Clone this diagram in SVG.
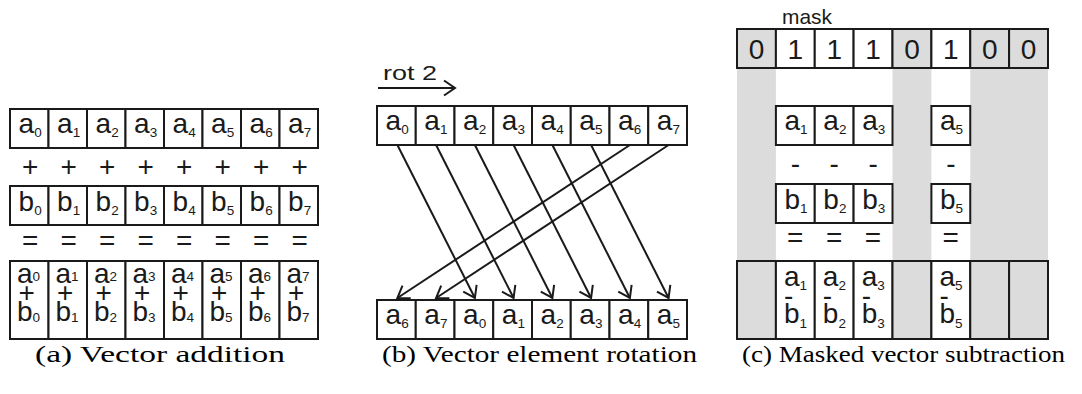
<svg xmlns="http://www.w3.org/2000/svg" width="1082" height="394" viewBox="0 0 1082 394">
<style>
.c{fill:#fff;stroke:#1a1a1a;stroke-width:2}
.g{fill:#dcdcdc;stroke:#1a1a1a;stroke-width:2}
.bg{fill:#dcdcdc;stroke:none}
.t{font-family:"Liberation Sans",Arial,sans-serif;font-size:28px;fill:#1a1a1a}
.s{font-size:13.5px}
.m{text-anchor:middle}
.lab{font-family:"Liberation Sans",Arial,sans-serif;font-size:21px;fill:#1a1a1a}
.cap{font-family:"Liberation Serif","Times New Roman",serif;font-size:24px;fill:#000}
.ar{fill:none;stroke:#1a1a1a;stroke-width:2}
</style>
<defs>
<marker id="ah" markerUnits="userSpaceOnUse" markerWidth="14" markerHeight="18" refX="12" refY="9" orient="auto">
<path d="M1,1.5 L12,9 L1,16.5" fill="none" stroke="#1a1a1a" stroke-width="2"/>
</marker>
</defs>

<!-- Panel (a) -->
<g id="a-row-a">
<rect class="c" x="10" y="109" width="38.5" height="39"/>
<rect class="c" x="48.5" y="109" width="38.5" height="39"/>
<rect class="c" x="87" y="109" width="38.5" height="39"/>
<rect class="c" x="125.5" y="109" width="38.5" height="39"/>
<rect class="c" x="164" y="109" width="38.5" height="39"/>
<rect class="c" x="202.5" y="109" width="38.5" height="39"/>
<rect class="c" x="241" y="109" width="38.5" height="39"/>
<rect class="c" x="279.5" y="109" width="38.5" height="39"/>
<text class="t" x="18.6" y="133">a<tspan class="s" dy="3.5">0</tspan></text>
<text class="t" x="57.1" y="133">a<tspan class="s" dy="3.5">1</tspan></text>
<text class="t" x="95.6" y="133">a<tspan class="s" dy="3.5">2</tspan></text>
<text class="t" x="134.1" y="133">a<tspan class="s" dy="3.5">3</tspan></text>
<text class="t" x="172.6" y="133">a<tspan class="s" dy="3.5">4</tspan></text>
<text class="t" x="211.1" y="133">a<tspan class="s" dy="3.5">5</tspan></text>
<text class="t" x="249.6" y="133">a<tspan class="s" dy="3.5">6</tspan></text>
<text class="t" x="288.1" y="133">a<tspan class="s" dy="3.5">7</tspan></text>
</g>
<g id="a-ops-plus">
<text class="t m" x="30.25" y="176">+</text>
<text class="t m" x="68.75" y="176">+</text>
<text class="t m" x="107.25" y="176">+</text>
<text class="t m" x="145.75" y="176">+</text>
<text class="t m" x="184.25" y="176">+</text>
<text class="t m" x="222.75" y="176">+</text>
<text class="t m" x="261.25" y="176">+</text>
<text class="t m" x="299.75" y="176">+</text>
</g>
<g id="a-row-b">
<rect class="c" x="10" y="186" width="38.5" height="39"/>
<rect class="c" x="48.5" y="186" width="38.5" height="39"/>
<rect class="c" x="87" y="186" width="38.5" height="39"/>
<rect class="c" x="125.5" y="186" width="38.5" height="39"/>
<rect class="c" x="164" y="186" width="38.5" height="39"/>
<rect class="c" x="202.5" y="186" width="38.5" height="39"/>
<rect class="c" x="241" y="186" width="38.5" height="39"/>
<rect class="c" x="279.5" y="186" width="38.5" height="39"/>
<text class="t" x="18.6" y="211">b<tspan class="s" dy="3.5">0</tspan></text>
<text class="t" x="57.1" y="211">b<tspan class="s" dy="3.5">1</tspan></text>
<text class="t" x="95.6" y="211">b<tspan class="s" dy="3.5">2</tspan></text>
<text class="t" x="134.1" y="211">b<tspan class="s" dy="3.5">3</tspan></text>
<text class="t" x="172.6" y="211">b<tspan class="s" dy="3.5">4</tspan></text>
<text class="t" x="211.1" y="211">b<tspan class="s" dy="3.5">5</tspan></text>
<text class="t" x="249.6" y="211">b<tspan class="s" dy="3.5">6</tspan></text>
<text class="t" x="288.1" y="211">b<tspan class="s" dy="3.5">7</tspan></text>
</g>
<g id="a-ops-eq">
<text class="t m" x="30.25" y="250">=</text>
<text class="t m" x="68.75" y="250">=</text>
<text class="t m" x="107.25" y="250">=</text>
<text class="t m" x="145.75" y="250">=</text>
<text class="t m" x="184.25" y="250">=</text>
<text class="t m" x="222.75" y="250">=</text>
<text class="t m" x="261.25" y="250">=</text>
<text class="t m" x="299.75" y="250">=</text>
</g>
<g id="a-row-sum">
<rect class="c" x="10" y="261" width="38.5" height="78"/>
<rect class="c" x="48.5" y="261" width="38.5" height="78"/>
<rect class="c" x="87" y="261" width="38.5" height="78"/>
<rect class="c" x="125.5" y="261" width="38.5" height="78"/>
<rect class="c" x="164" y="261" width="38.5" height="78"/>
<rect class="c" x="202.5" y="261" width="38.5" height="78"/>
<rect class="c" x="241" y="261" width="38.5" height="78"/>
<rect class="c" x="279.5" y="261" width="38.5" height="78"/>
<text class="t" x="17" y="283">a<tspan class="s" dy="-2">0</tspan><tspan x="18.6" y="302">+</tspan><tspan x="17" y="321">b</tspan><tspan class="s" dy="1">0</tspan></text>
<text class="t" x="55.5" y="283">a<tspan class="s" dy="-2">1</tspan><tspan x="57.1" y="302">+</tspan><tspan x="55.5" y="321">b</tspan><tspan class="s" dy="1">1</tspan></text>
<text class="t" x="94" y="283">a<tspan class="s" dy="-2">2</tspan><tspan x="95.6" y="302">+</tspan><tspan x="94" y="321">b</tspan><tspan class="s" dy="1">2</tspan></text>
<text class="t" x="132.5" y="283">a<tspan class="s" dy="-2">3</tspan><tspan x="134.1" y="302">+</tspan><tspan x="132.5" y="321">b</tspan><tspan class="s" dy="1">3</tspan></text>
<text class="t" x="171" y="283">a<tspan class="s" dy="-2">4</tspan><tspan x="172.6" y="302">+</tspan><tspan x="171" y="321">b</tspan><tspan class="s" dy="1">4</tspan></text>
<text class="t" x="209.5" y="283">a<tspan class="s" dy="-2">5</tspan><tspan x="211.1" y="302">+</tspan><tspan x="209.5" y="321">b</tspan><tspan class="s" dy="1">5</tspan></text>
<text class="t" x="248" y="283">a<tspan class="s" dy="-2">6</tspan><tspan x="249.6" y="302">+</tspan><tspan x="248" y="321">b</tspan><tspan class="s" dy="1">6</tspan></text>
<text class="t" x="286.5" y="283">a<tspan class="s" dy="-2">7</tspan><tspan x="288.1" y="302">+</tspan><tspan x="286.5" y="321">b</tspan><tspan class="s" dy="1">7</tspan></text>
</g>
<text class="cap" x="35" y="362" textLength="250" lengthAdjust="spacingAndGlyphs">(a) Vector addition</text>

<!-- Panel (b) -->
<g id="b-label">
<text class="lab" x="383" y="80" textLength="54" lengthAdjust="spacingAndGlyphs">rot 2</text>
</g>
<g id="b-row-top">
<rect class="c" x="377" y="106" width="38.75" height="39"/>
<rect class="c" x="415.75" y="106" width="38.75" height="39"/>
<rect class="c" x="454.5" y="106" width="38.75" height="39"/>
<rect class="c" x="493.25" y="106" width="38.75" height="39"/>
<rect class="c" x="532" y="106" width="38.75" height="39"/>
<rect class="c" x="570.75" y="106" width="38.75" height="39"/>
<rect class="c" x="609.5" y="106" width="38.75" height="39"/>
<rect class="c" x="648.25" y="106" width="38.75" height="39"/>
<text class="t" x="385.6" y="130">a<tspan class="s" dy="3.5">0</tspan></text>
<text class="t" x="424.35" y="130">a<tspan class="s" dy="3.5">1</tspan></text>
<text class="t" x="463.1" y="130">a<tspan class="s" dy="3.5">2</tspan></text>
<text class="t" x="501.85" y="130">a<tspan class="s" dy="3.5">3</tspan></text>
<text class="t" x="540.6" y="130">a<tspan class="s" dy="3.5">4</tspan></text>
<text class="t" x="579.35" y="130">a<tspan class="s" dy="3.5">5</tspan></text>
<text class="t" x="618.1" y="130">a<tspan class="s" dy="3.5">6</tspan></text>
<text class="t" x="656.85" y="130">a<tspan class="s" dy="3.5">7</tspan></text>
</g>
<g id="b-row-bottom">
<rect class="c" x="377" y="300" width="38.75" height="39"/>
<rect class="c" x="415.75" y="300" width="38.75" height="39"/>
<rect class="c" x="454.5" y="300" width="38.75" height="39"/>
<rect class="c" x="493.25" y="300" width="38.75" height="39"/>
<rect class="c" x="532" y="300" width="38.75" height="39"/>
<rect class="c" x="570.75" y="300" width="38.75" height="39"/>
<rect class="c" x="609.5" y="300" width="38.75" height="39"/>
<rect class="c" x="648.25" y="300" width="38.75" height="39"/>
<text class="t" x="385.6" y="324">a<tspan class="s" dy="3.5">6</tspan></text>
<text class="t" x="424.35" y="324">a<tspan class="s" dy="3.5">7</tspan></text>
<text class="t" x="463.1" y="324">a<tspan class="s" dy="3.5">0</tspan></text>
<text class="t" x="501.85" y="324">a<tspan class="s" dy="3.5">1</tspan></text>
<text class="t" x="540.6" y="324">a<tspan class="s" dy="3.5">2</tspan></text>
<text class="t" x="579.35" y="324">a<tspan class="s" dy="3.5">3</tspan></text>
<text class="t" x="618.1" y="324">a<tspan class="s" dy="3.5">4</tspan></text>
<text class="t" x="656.85" y="324">a<tspan class="s" dy="3.5">5</tspan></text>
</g>
<g id="connectors">
<line class="ar" x1="378" y1="88" x2="455" y2="88" marker-end="url(#ah)"/>
<line class="ar" x1="397.4" y1="145" x2="474.9" y2="298" marker-end="url(#ah)"/>
<line class="ar" x1="436.1" y1="145" x2="513.6" y2="298" marker-end="url(#ah)"/>
<line class="ar" x1="474.9" y1="145" x2="552.4" y2="298" marker-end="url(#ah)"/>
<line class="ar" x1="513.6" y1="145" x2="591.1" y2="298" marker-end="url(#ah)"/>
<line class="ar" x1="552.4" y1="145" x2="629.9" y2="298" marker-end="url(#ah)"/>
<line class="ar" x1="591.1" y1="145" x2="668.6" y2="298" marker-end="url(#ah)"/>
<line class="ar" x1="629.9" y1="145" x2="397.4" y2="298" marker-end="url(#ah)"/>
<line class="ar" x1="668.6" y1="145" x2="436.1" y2="298" marker-end="url(#ah)"/>
</g>
<text class="cap" x="382" y="362" textLength="315" lengthAdjust="spacingAndGlyphs">(b) Vector element rotation</text>

<!-- Panel (c) -->
<g id="c-mask-bg">
<rect class="bg" x="737" y="68" width="38.9" height="193"/>
<rect class="bg" x="892.5" y="68" width="38.9" height="193"/>
<rect class="bg" x="970.25" y="68" width="77.75" height="193"/>
</g>
<g id="c-mask">
<text class="lab" x="782" y="24" textLength="50" lengthAdjust="spacingAndGlyphs">mask</text>
<rect class="g" x="737" y="29" width="38.9" height="39"/>
<rect class="c" x="775.9" y="29" width="38.85" height="39"/>
<rect class="c" x="814.75" y="29" width="38.85" height="39"/>
<rect class="c" x="853.6" y="29" width="38.9" height="39"/>
<rect class="g" x="892.5" y="29" width="38.9" height="39"/>
<rect class="c" x="931.4" y="29" width="38.85" height="39"/>
<rect class="g" x="970.25" y="29" width="38.85" height="39"/>
<rect class="g" x="1009.1" y="29" width="38.9" height="39"/>
<text class="t m" x="756.45" y="58.5">0</text>
<text class="t m" x="795.3" y="58.5">1</text>
<text class="t m" x="834.2" y="58.5">1</text>
<text class="t m" x="873.05" y="58.5">1</text>
<text class="t m" x="911.95" y="58.5">0</text>
<text class="t m" x="950.8" y="58.5">1</text>
<text class="t m" x="989.7" y="58.5">0</text>
<text class="t m" x="1028.55" y="58.5">0</text>
</g>
<g id="c-row-a">
<rect class="c" x="775.9" y="106" width="38.85" height="39"/>
<rect class="c" x="814.75" y="106" width="38.85" height="39"/>
<rect class="c" x="853.6" y="106" width="38.9" height="39"/>
<rect class="c" x="931.4" y="106" width="38.85" height="39"/>
<text class="t" x="784.5" y="130">a<tspan class="s" dy="3.5">1</tspan></text>
<text class="t" x="823.35" y="130">a<tspan class="s" dy="3.5">2</tspan></text>
<text class="t" x="862.2" y="130">a<tspan class="s" dy="3.5">3</tspan></text>
<text class="t" x="940" y="130">a<tspan class="s" dy="3.5">5</tspan></text>
</g>
<g id="c-ops-minus">
<text class="t m" x="795.3" y="172.6">-</text>
<text class="t m" x="834.2" y="172.6">-</text>
<text class="t m" x="873.05" y="172.6">-</text>
<text class="t m" x="950.8" y="172.6">-</text>
</g>
<g id="c-row-b">
<rect class="c" x="775.9" y="184" width="38.85" height="39"/>
<rect class="c" x="814.75" y="184" width="38.85" height="39"/>
<rect class="c" x="853.6" y="184" width="38.9" height="39"/>
<rect class="c" x="931.4" y="184" width="38.85" height="39"/>
<text class="t" x="784.5" y="209">b<tspan class="s" dy="3.5">1</tspan></text>
<text class="t" x="823.35" y="209">b<tspan class="s" dy="3.5">2</tspan></text>
<text class="t" x="862.2" y="209">b<tspan class="s" dy="3.5">3</tspan></text>
<text class="t" x="940" y="209">b<tspan class="s" dy="3.5">5</tspan></text>
</g>
<g id="c-ops-eq">
<text class="t m" x="795.3" y="247">=</text>
<text class="t m" x="834.2" y="247">=</text>
<text class="t m" x="873.05" y="247">=</text>
<text class="t m" x="950.8" y="247">=</text>
</g>
<g id="c-row-result">
<rect class="g" x="737" y="261" width="38.9" height="78"/>
<rect class="c" x="775.9" y="261" width="38.85" height="78"/>
<rect class="c" x="814.75" y="261" width="38.85" height="78"/>
<rect class="c" x="853.6" y="261" width="38.9" height="78"/>
<rect class="g" x="892.5" y="261" width="38.9" height="78"/>
<rect class="c" x="931.4" y="261" width="38.85" height="78"/>
<rect class="g" x="970.25" y="261" width="38.85" height="78"/>
<rect class="g" x="1009.1" y="261" width="38.9" height="78"/>
<text class="t" x="784" y="286">a<tspan class="s" dy="4">1</tspan><tspan x="784" y="304.6">-</tspan><tspan x="784" y="323">b</tspan><tspan class="s" dy="5">1</tspan></text>
<text class="t" x="822.85" y="286">a<tspan class="s" dy="4">2</tspan><tspan x="822.85" y="304.6">-</tspan><tspan x="822.85" y="323">b</tspan><tspan class="s" dy="5">2</tspan></text>
<text class="t" x="861.7" y="286">a<tspan class="s" dy="4">3</tspan><tspan x="861.7" y="304.6">-</tspan><tspan x="861.7" y="323">b</tspan><tspan class="s" dy="5">3</tspan></text>
<text class="t" x="939.5" y="286">a<tspan class="s" dy="4">5</tspan><tspan x="939.5" y="304.6">-</tspan><tspan x="939.5" y="323">b</tspan><tspan class="s" dy="5">5</tspan></text>
</g>
<text class="cap" x="742" y="362" textLength="323" lengthAdjust="spacingAndGlyphs">(c) Masked vector subtraction</text>
</svg>
